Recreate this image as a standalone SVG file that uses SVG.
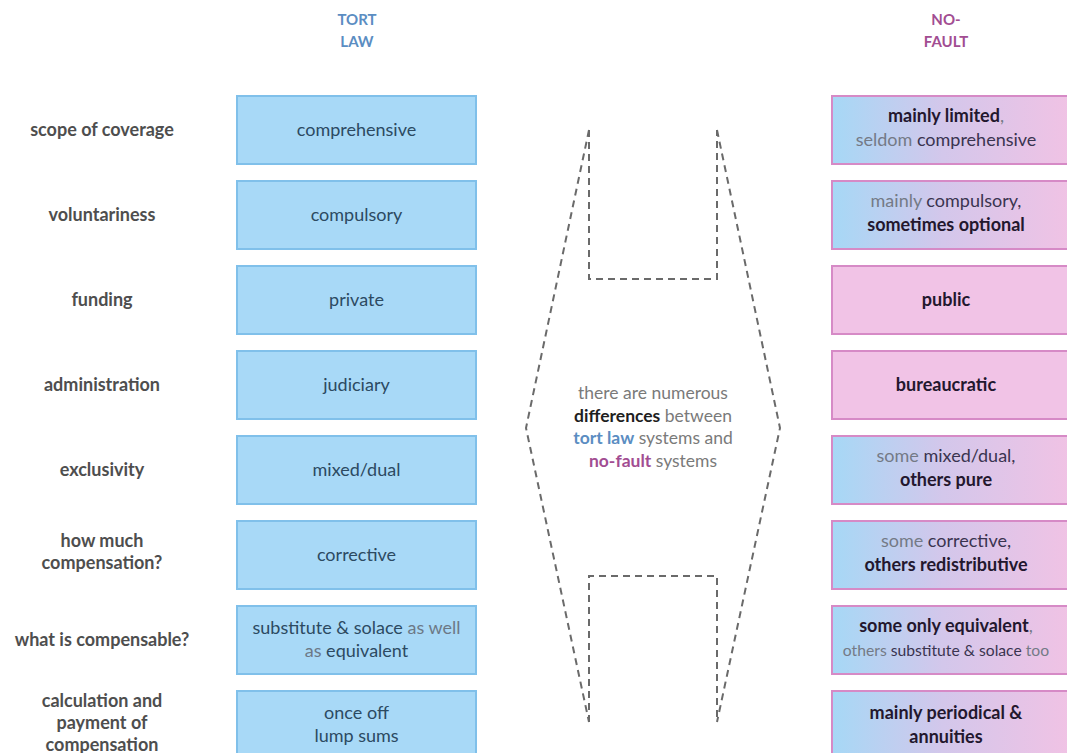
<svg xmlns="http://www.w3.org/2000/svg" width="1067" height="753" viewBox="0 0 1067 753">
  <style>
    text { font-family: Lato, "Open Sans", "Liberation Sans", sans-serif; text-anchor: middle; }
    .title { font-size: 15px; font-weight: bold; }
    .tort { fill: #5b8dc2; }
    .nf { fill: #a24d92; }
    .lbl { font-size: 18px; font-weight: bold; fill: #4e4e4e; }
    .tbox { fill: #a8d9f7; stroke: #80c0ea; stroke-width: 2; }
    .pbox { fill: #f1c3e6; stroke: #d68ac6; stroke-width: 2; }
    .gbox { fill: url(#mix); stroke: #d68ac6; stroke-width: 2; }
    .tt { font-size: 18px; fill: #2c4a62; }
    .lt { fill: #6c7886; }
    .nt { font-size: 18px; fill: #3a3450; }
    .b { font-weight: bold; fill: #23172e; }
    .g { fill: #747a86; }
    .ctr { font-size: 17.5px; fill: #7a7a7a; }
    .dash { fill: none; stroke: #6a6a6a; stroke-width: 2; stroke-dasharray: 7 5; }
  </style>
  <defs>
    <linearGradient id="mix" x1="0" y1="0" x2="1" y2="0">
      <stop offset="0" stop-color="#a6d8f6"/>
      <stop offset="0.45" stop-color="#d3c7eb"/>
      <stop offset="1" stop-color="#f2c2e4"/>
    </linearGradient>
  </defs>
  <rect width="1067" height="753" fill="#ffffff"/>

  <!-- column headings -->
  <g id="head-tort">
    <text class="title tort" x="357" y="25">TORT</text>
    <text class="title tort" x="357" y="47">LAW</text>
  </g>
  <g id="head-nofault">
    <text class="title nf" x="946" y="25">NO-</text>
    <text class="title nf" x="946" y="47">FAULT</text>
  </g>

  <!-- row labels -->
  <g id="labels">
    <text class="lbl" x="102" y="136">scope of coverage</text>
    <text class="lbl" x="102" y="221">voluntariness</text>
    <text class="lbl" x="102" y="306">funding</text>
    <text class="lbl" x="102" y="391">administration</text>
    <text class="lbl" x="102" y="476">exclusivity</text>
    <text class="lbl" x="102" y="547">how much</text>
    <text class="lbl" x="102" y="569">compensation?</text>
    <text class="lbl" x="102" y="646">what is compensable?</text>
    <text class="lbl" x="102" y="707">calculation and</text>
    <text class="lbl" x="102" y="729">payment of</text>
    <text class="lbl" x="102" y="751">compensation</text>
  </g>

  <!-- tort law column -->
  <g id="tort-1"><rect class="tbox" x="237" y="96" width="239" height="68"/><text class="tt" x="356.5" y="136">comprehensive</text></g>
  <g id="tort-2"><rect class="tbox" x="237" y="181" width="239" height="68"/><text class="tt" x="356.5" y="221">compulsory</text></g>
  <g id="tort-3"><rect class="tbox" x="237" y="266" width="239" height="68"/><text class="tt" x="356.5" y="306">private</text></g>
  <g id="tort-4"><rect class="tbox" x="237" y="351" width="239" height="68"/><text class="tt" x="356.5" y="391">judiciary</text></g>
  <g id="tort-5"><rect class="tbox" x="237" y="436" width="239" height="68"/><text class="tt" x="356.5" y="476">mixed/dual</text></g>
  <g id="tort-6"><rect class="tbox" x="237" y="521" width="239" height="68"/><text class="tt" x="356.5" y="561">corrective</text></g>
  <g id="tort-7"><rect class="tbox" x="237" y="606" width="239" height="68"/>
    <text class="tt" x="356.5" y="634">substitute &amp; solace <tspan class="lt">as well</tspan></text>
    <text class="tt" x="356.5" y="657"><tspan class="lt">as</tspan> equivalent</text></g>
  <g id="tort-8"><rect class="tbox" x="237" y="691" width="239" height="68"/>
    <text class="tt" x="356.5" y="719">once off</text>
    <text class="tt" x="356.5" y="742">lump sums</text></g>

  <!-- no-fault column -->
  <g id="nf-1"><rect class="gbox" x="832" y="96" width="245" height="68"/>
    <text class="nt" x="946" y="122"><tspan class="b">mainly limited</tspan><tspan class="g">,</tspan></text>
    <text class="nt" x="946" y="146"><tspan class="g">seldom</tspan> comprehensive</text></g>
  <g id="nf-2"><rect class="gbox" x="832" y="181" width="245" height="68"/>
    <text class="nt" x="946" y="207"><tspan class="g">mainly</tspan> compulsory,</text>
    <text class="nt b" x="946" y="231">sometimes optional</text></g>
  <g id="nf-3"><rect class="pbox" x="832" y="266" width="245" height="68"/>
    <text class="nt b" x="946" y="306">public</text></g>
  <g id="nf-4"><rect class="pbox" x="832" y="351" width="245" height="68"/>
    <text class="nt b" x="946" y="391">bureaucratic</text></g>
  <g id="nf-5"><rect class="gbox" x="832" y="436" width="245" height="68"/>
    <text class="nt" x="946" y="462"><tspan class="g">some</tspan> mixed/dual,</text>
    <text class="nt b" x="946" y="486">others pure</text></g>
  <g id="nf-6"><rect class="gbox" x="832" y="521" width="245" height="68"/>
    <text class="nt" x="946" y="547"><tspan class="g">some</tspan> corrective,</text>
    <text class="nt b" x="946" y="571">others redistributive</text></g>
  <g id="nf-7"><rect class="gbox" x="832" y="606" width="245" height="68"/>
    <text class="nt" x="946" y="632"><tspan class="b">some only equivalent</tspan><tspan class="g">,</tspan></text>
    <text class="nt" x="946" y="656" style="font-size:15.7px"><tspan class="g">others</tspan> substitute &amp; solace <tspan class="g">too</tspan></text></g>
  <g id="nf-8"><rect class="gbox" x="832" y="691" width="245" height="68"/>
    <text class="nt b" x="946" y="719">mainly periodical &amp;</text>
    <text class="nt b" x="946" y="743">annuities</text></g>

  <!-- dashed outline in the middle -->
  <g id="connectors">
    <polyline class="dash" points="589,130 526,428 589,722"/>
    <polyline class="dash" points="717,130 780,428 717,722"/>
    <polyline class="dash" points="589,130 589,279 717,279 717,130"/>
    <polyline class="dash" points="589,722 589,576 717,576 717,722"/>
  </g>

  <!-- central note -->
  <g id="note">
    <text class="ctr" x="653" y="399">there are numerous</text>
    <text class="ctr" x="653" y="422"><tspan font-weight="bold" fill="#1e1e1e">differences</tspan> between</text>
    <text class="ctr" x="653" y="444"><tspan font-weight="bold" fill="#5b8dc2">tort law</tspan> systems and</text>
    <text class="ctr" x="653" y="467"><tspan font-weight="bold" fill="#a24d92">no-fault</tspan> systems</text>
  </g>
</svg>
